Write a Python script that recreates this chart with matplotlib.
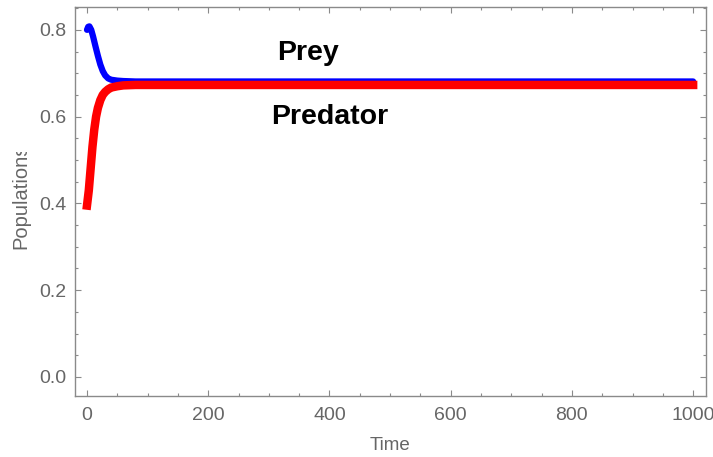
import matplotlib.pyplot as plt
from matplotlib.ticker import MultipleLocator
from matplotlib.transforms import Bbox

# values
prey_t = [0, 2, 4, 7, 10, 14, 18, 22, 26, 30, 35, 40, 50, 60, 80, 100, 200, 400, 600, 800, 1000]
prey_y = [0.800, 0.807, 0.808, 0.800, 0.785, 0.762, 0.740, 0.720, 0.705, 0.695, 0.688, 0.685,
          0.683, 0.682, 0.681, 0.681, 0.681, 0.681, 0.681, 0.681, 0.681]

pred_t = [0, 3, 6, 9, 12, 15, 18, 22, 26, 30, 35, 40, 50, 60, 80, 100, 200, 400, 600, 800, 1000]
pred_y = [0.395, 0.430, 0.480, 0.530, 0.570, 0.600, 0.620, 0.638, 0.650, 0.657, 0.663, 0.667,
          0.670, 0.672, 0.673, 0.673, 0.673, 0.673, 0.673, 0.673, 0.673]

x_ticks = [0, 200, 400, 600, 800, 1000]
y_ticks = [0.0, 0.2, 0.4, 0.6, 0.8]

plt.rcParams['font.family'] = ['Liberation Sans', 'DejaVu Sans']

fig = plt.figure(figsize=(7.13, 4.57), dpi=100)
ax = fig.add_axes([0.105, 0.1335, 0.885, 0.8515])

ax.plot(prey_t, prey_y, color='#0000ff', lw=4.5, solid_capstyle='round')
ax.plot(pred_t, pred_y, color='#ff0000', lw=6.1, solid_capstyle='projecting')

ax.set_xlim(-20, 1021)
ax.set_ylim(-0.044, 0.853)
ax.set_xticks(x_ticks)
ax.set_yticks(y_ticks)
ax.set_yticklabels([f"{v:.1f}" for v in y_ticks])
ax.xaxis.set_minor_locator(MultipleLocator(50))
ax.yaxis.set_minor_locator(MultipleLocator(0.05))

gray = '#666666'
for s in ax.spines.values():
    s.set_color('#8a8a8a')
    s.set_linewidth(1.0)
ax.tick_params(which='both', direction='in', top=True, right=True, color='#8a8a8a',
               labelcolor=gray, labelsize=14, width=0.8)
ax.tick_params(which='major', length=4.5)
ax.tick_params(axis='x', which='major', pad=8)
ax.tick_params(axis='y', which='major', pad=6)
ax.tick_params(which='minor', length=2.5)

ax.text(365, 0.747, 'Prey', fontsize=20.5, fontweight='bold', ha='center', va='center')
ax.text(400, 0.600, 'Predator', fontsize=20.5, fontweight='bold', ha='center', va='center')

ax.set_xlabel('Time', color=gray, fontsize=13.5, labelpad=9)
ax.set_ylabel('Populations', color=gray, fontsize=14.5)
ax.yaxis.set_label_coords(-0.071, 0.512)

# the reference clips the y label at its top
fig.canvas.draw()
ylab = ax.yaxis.label
ylab.set_clip_box(Bbox.from_extents(0, 0, 60, 457 - 152))
ylab.set_clip_on(True)

fig.savefig('out.png', dpi=100)
